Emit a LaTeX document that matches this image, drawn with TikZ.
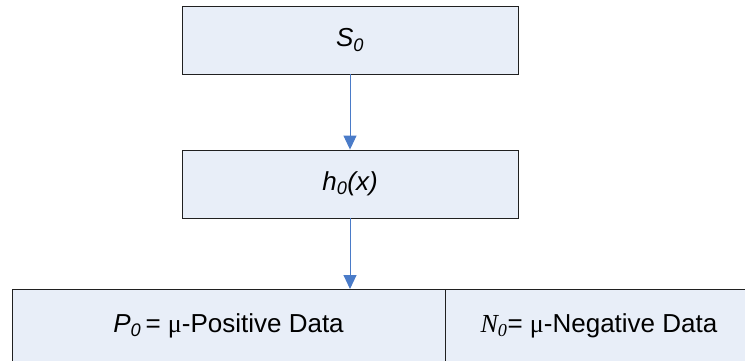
\documentclass[tikz,border=0pt]{standalone}
\usepackage{fontspec}
\setmainfont{Liberation Sans}
\newfontfamily\tnr{Liberation Serif}
\usetikzlibrary{arrows.meta}
\definecolor{boxfill}{HTML}{E8EEF8}
\definecolor{arrowblue}{HTML}{4A7BC8}
\definecolor{boxline}{HTML}{202020}
\tikzset{
  box/.style={draw=boxline, line width=0.9pt, fill=boxfill, inner sep=0pt, font=\fontsize{26}{30}\selectfont},
  lbl/.style={font=\fontsize{26}{30}\selectfont, inner sep=0pt},
  flow/.style={draw=arrowblue, line width=1pt, -{Triangle[length=14pt,width=13pt]}, color=arrowblue}
}
\begin{document}
\begin{tikzpicture}[x=1pt,y=-1pt]
\useasboundingbox (0,0) rectangle (745,360);
\clip (0,0) rectangle (745,360);
\node[box, minimum width=336pt, minimum height=68pt] (s) at (350,40) {\textit{S\textsubscript{0}}};
\node[box, minimum width=336pt, minimum height=68pt] (h) at (350,184) {\textit{h\textsubscript{0}(x)}};
\node[box, minimum width=433pt, minimum height=90pt, anchor=north west] (p) at (12,289) {};
\node[box, minimum width=310pt, minimum height=90pt, anchor=north west] (n) at (445,289) {};
\node[lbl] (pt) at (228.5,326) {\textit{P\textsubscript{0}}\,= {\tnr μ}-Positive Data};
\node[lbl] (nt) at (599,326) {{\tnr\itshape N\textsubscript{0}}= {\tnr μ}-Negative Data};
\draw[flow] (s.south) -- (h.north);
\draw[flow] (h.south) -- (h.south |- p.north);
\end{tikzpicture}
\end{document}
